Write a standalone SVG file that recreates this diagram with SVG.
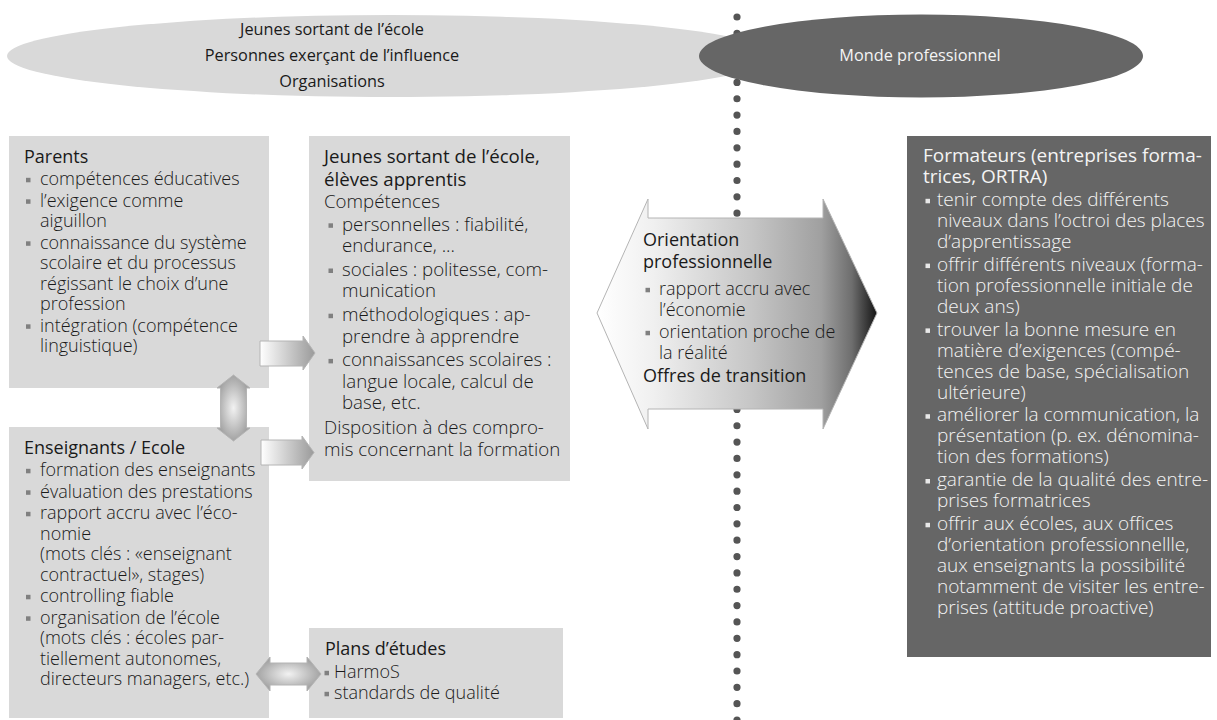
<svg xmlns="http://www.w3.org/2000/svg" width="1217" height="720" viewBox="0 0 1217 720">
<defs>
<style>
text{font-family:'Open Sans','Noto Sans',sans-serif}
.h{font-size:18px;font-weight:400;fill:#1a1a1a}
.b{font-size:18px;font-weight:300;fill:#1a1a1a}
.m .h,.m .b{font-size:18.7px}
.hw{font-size:19px;font-weight:400;fill:#f4f4f4}
.bw{font-size:19px;font-weight:300;fill:#f4f4f4}
.e{font-size:16.3px;font-weight:400;fill:#1a1a1a;text-anchor:middle}
.ew{font-size:16.3px;font-weight:400;fill:#f4f4f4;text-anchor:middle}
.box{fill:#d9d9d9}
.dbox{fill:#666666}
.bl{fill:#808080}
.blw{fill:#e8e8e8}
.arr{stroke:#b4b4b4;stroke-width:1}
</style>
<linearGradient id="gH" x1="0" y1="0" x2="1" y2="0">
<stop offset="0" stop-color="#ffffff"/>
<stop offset="1" stop-color="#9a9a9a"/>
</linearGradient>
<radialGradient id="gR" cx="0.5" cy="0.5" r="0.6">
<stop offset="0" stop-color="#f2f2f2"/>
<stop offset="1" stop-color="#939393"/>
</radialGradient>
<linearGradient id="gBig" x1="0" y1="0" x2="1" y2="0">
<stop offset="0" stop-color="#ffffff"/>
<stop offset="0.2" stop-color="#f0f0f0"/>
<stop offset="0.55" stop-color="#c6c6c6"/>
<stop offset="0.8" stop-color="#a0a0a0"/>
<stop offset="0.91" stop-color="#6e6e6e"/>
<stop offset="1" stop-color="#141414"/>
</linearGradient>
</defs>
<rect width="1217" height="720" fill="#ffffff"/>

<g id="ellipse-left">
<ellipse cx="391" cy="56" rx="384" ry="41" fill="#d9d9d9"/>
<text class="e" x="332" y="35">Jeunes sortant de l’école</text>
<text class="e" x="332" y="61">Personnes exerçant de l’influence</text>
<text class="e" x="332" y="87">Organisations</text>
</g>

<g id="divider">
<line x1="737" y1="17" x2="737" y2="721" stroke="#555555" stroke-width="7.2" stroke-linecap="round" stroke-dasharray="0 16.35"/>
</g>

<g id="ellipse-right">
<ellipse cx="921" cy="56" rx="222" ry="41.5" fill="#666666"/>
<text class="ew" x="920" y="61">Monde professionnel</text>
</g>

<g id="parents">
<rect class="box" x="9" y="136" width="260" height="252"/>
<text class="h" x="24" y="163">Parents</text>
<rect class="bl" x="26" y="177.8" width="4.5" height="4.5"/>
<text class="b" x="40" y="185">compétences éducatives</text>
<rect class="bl" x="26" y="199.3" width="4.5" height="4.5"/>
<text class="b" x="40" y="206.5">l’exigence comme</text>
<text class="b" x="40" y="227">aiguillon</text>
<rect class="bl" x="26" y="241.3" width="4.5" height="4.5"/>
<text class="b" x="40" y="248.5">connaissance du système</text>
<text class="b" x="40" y="269">scolaire et du processus</text>
<text class="b" x="40" y="289.5">régissant le choix d’une</text>
<text class="b" x="40" y="310">profession</text>
<rect class="bl" x="26" y="324.3" width="4.5" height="4.5"/>
<text class="b" x="40" y="331.5">intégration (compétence</text>
<text class="b" x="40" y="352">linguistique)</text>
</g>

<g id="enseignants">
<rect class="box" x="9" y="427" width="260" height="291"/>
<text class="h" x="24" y="454">Enseignants / Ecole</text>
<rect class="bl" x="26" y="468.8" width="4.5" height="4.5"/>
<text class="b" x="40" y="476">formation des enseignants</text>
<rect class="bl" x="26" y="490.3" width="4.5" height="4.5"/>
<text class="b" x="40" y="497.5">évaluation des prestations</text>
<rect class="bl" x="26" y="511.8" width="4.5" height="4.5"/>
<text class="b" x="40" y="519">rapport accru avec l’éco-</text>
<text class="b" x="40" y="539.5">nomie</text>
<text class="b" x="40" y="560">(mots clés : «enseignant</text>
<text class="b" x="40" y="580.5">contractuel», stages)</text>
<rect class="bl" x="26" y="594.8" width="4.5" height="4.5"/>
<text class="b" x="40" y="602">controlling fiable</text>
<rect class="bl" x="26" y="616.3" width="4.5" height="4.5"/>
<text class="b" x="40" y="623.5">organisation de l’école</text>
<text class="b" x="40" y="644">(mots clés : écoles par-</text>
<text class="b" x="40" y="664.5">tiellement autonomes,</text>
<text class="b" x="40" y="685">directeurs managers, etc.)</text>
</g>

<g id="jeunes" class="m">
<rect class="box" x="309" y="136" width="261" height="345"/>
<text class="h" x="324" y="163">Jeunes sortant de l’école,</text>
<text class="h" x="324" y="185.5">élèves apprentis</text>
<text class="b" x="324" y="208">Compétences</text>
<rect class="bl" x="328.5" y="223.3" width="4.5" height="4.5"/>
<text class="b" x="342" y="230.5">personnelles : fiabilité,</text>
<text class="b" x="342" y="252.1">endurance, ...</text>
<rect class="bl" x="328.5" y="268.5" width="4.5" height="4.5"/>
<text class="b" x="342" y="275.7">sociales : politesse, com-</text>
<text class="b" x="342" y="297.3">munication</text>
<rect class="bl" x="328.5" y="313.7" width="4.5" height="4.5"/>
<text class="b" x="342" y="320.9">méthodologiques : ap-</text>
<text class="b" x="342" y="342.5">prendre à apprendre</text>
<rect class="bl" x="328.5" y="358.9" width="4.5" height="4.5"/>
<text class="b" x="342" y="366.1">connaissances scolaires :</text>
<text class="b" x="342" y="387.7">langue locale, calcul de</text>
<text class="b" x="342" y="409.3">base, etc.</text>
<text class="b" x="324" y="434">Disposition à des compro-</text>
<text class="b" x="324" y="455.6">mis concernant la formation</text>
</g>

<g id="plans">
<rect class="box" x="309" y="628" width="254" height="90"/>
<text class="h" x="325" y="655">Plans d’études</text>
<rect class="bl" x="324.5" y="670.8" width="4.5" height="4.5"/>
<text class="b" x="334" y="678">HarmoS</text>
<rect class="bl" x="324.5" y="691.8" width="4.5" height="4.5"/>
<text class="b" x="334" y="699">standards de qualité</text>
</g>

<g id="orientation">
<polygon points="597,313 648,199 648,218 823,218 823,199 877,313 823,429 823,409 648,409 648,429" fill="url(#gBig)" stroke="#b4b4b4" stroke-width="1"/>
<text class="h" x="643" y="246">Orientation</text>
<text class="h" x="643" y="267.5">professionnelle</text>
<rect class="bl" x="645.5" y="287.8" width="4.5" height="4.5"/>
<text class="b" x="659" y="295">rapport accru avec</text>
<text class="b" x="659" y="316">l’économie</text>
<rect class="bl" x="645.5" y="330.8" width="4.5" height="4.5"/>
<text class="b" x="659" y="338">orientation proche de</text>
<text class="b" x="659" y="359">la réalité</text>
<text class="h" x="643" y="382">Offres de transition</text>
</g>

<g id="formateurs">
<rect class="dbox" x="907" y="136" width="304" height="521"/>
<text class="hw" x="923" y="162">Formateurs (entreprises forma-</text>
<text class="hw" x="923" y="183">trices, ORTRA)</text>
<rect class="blw" x="925.5" y="198.8" width="4.5" height="4.5"/>
<text class="bw" x="937" y="206">tenir compte des différents</text>
<text class="bw" x="937" y="227">niveaux dans l’octroi des places</text>
<text class="bw" x="937" y="248">d’apprentissage</text>
<rect class="blw" x="925.5" y="263.6" width="4.5" height="4.5"/>
<text class="bw" x="937" y="270.8">offrir différents niveaux (forma-</text>
<text class="bw" x="937" y="291.8">tion professionnelle initiale de</text>
<text class="bw" x="937" y="312.8">deux ans)</text>
<rect class="blw" x="925.5" y="328.4" width="4.5" height="4.5"/>
<text class="bw" x="937" y="335.6">trouver la bonne mesure en</text>
<text class="bw" x="937" y="356.6">matière d’exigences (compé-</text>
<text class="bw" x="937" y="377.6">tences de base, spécialisation</text>
<text class="bw" x="937" y="398.6">ultérieure)</text>
<rect class="blw" x="925.5" y="414.2" width="4.5" height="4.5"/>
<text class="bw" x="937" y="421.4">améliorer la communication, la</text>
<text class="bw" x="937" y="442.4">présentation (p. ex. dénomina-</text>
<text class="bw" x="937" y="463.4">tion des formations)</text>
<rect class="blw" x="925.5" y="479" width="4.5" height="4.5"/>
<text class="bw" x="937" y="486.2">garantie de la qualité des entre-</text>
<text class="bw" x="937" y="507.2">prises formatrices</text>
<rect class="blw" x="925.5" y="522.8" width="4.5" height="4.5"/>
<text class="bw" x="937" y="530">offrir aux écoles, aux offices</text>
<text class="bw" x="937" y="551">d’orientation professionnellle,</text>
<text class="bw" x="937" y="572">aux enseignants la possibilité</text>
<text class="bw" x="937" y="593">notamment de visiter les entre-</text>
<text class="bw" x="937" y="614">prises (attitude proactive)</text>
</g>

<g id="connectors">
<polygon class="arr" points="260,341 303,341 303,336 315,353 303,370 303,366 260,366" fill="url(#gH)"/>
<polygon class="arr" points="261,440 302,440 302,436 314,452.5 302,469 302,465 261,465" fill="url(#gH)"/>
<polygon class="arr" points="233.5,375 250,388 246.5,388 246.5,428 250,428 233.5,441 217,428 220.5,428 220.5,388 217,388" fill="url(#gR)"/>
<polygon class="arr" points="256,674 270,657 270,663 307,663 307,657 321,674 307,691 307,685 270,685 270,691" fill="url(#gR)"/>
</g>
</svg>
